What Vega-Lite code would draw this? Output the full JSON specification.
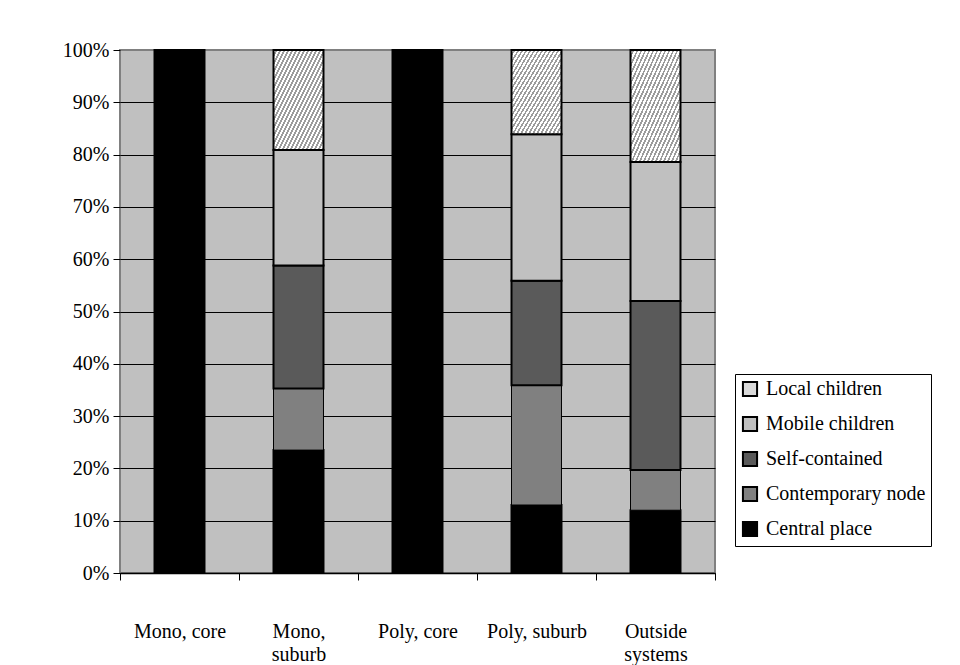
{
  "$schema": "https://vega.github.io/schema/vega-lite/v6.json",
  "autosize": "none",
  "padding": {"left": 120, "top": 50, "right": 245, "bottom": 92},
  "width": 595,
  "height": 523,
  "background": "white",
  "config": {
    "view": {"fill": "#c0c0c0", "stroke": "#808080", "strokeWidth": 2},
    "font": "Liberation Serif, Times New Roman, serif"
  },
  "data": {
    "values": [
      {"g": "Mono, core", "cat": "Central place", "v": 100},
      {"g": "Mono, suburb", "cat": "Central place", "v": 23.5},
      {"g": "Mono, suburb", "cat": "Contemporary node", "v": 11.8},
      {"g": "Mono, suburb", "cat": "Self-contained", "v": 23.5},
      {"g": "Mono, suburb", "cat": "Mobile children", "v": 22.1},
      {"g": "Mono, suburb", "cat": "Local children", "v": 19.1},
      {"g": "Poly, core", "cat": "Central place", "v": 100},
      {"g": "Poly, suburb", "cat": "Central place", "v": 13.0},
      {"g": "Poly, suburb", "cat": "Contemporary node", "v": 22.9},
      {"g": "Poly, suburb", "cat": "Self-contained", "v": 20.0},
      {"g": "Poly, suburb", "cat": "Mobile children", "v": 28.0},
      {"g": "Poly, suburb", "cat": "Local children", "v": 16.1},
      {"g": "Outside systems", "cat": "Central place", "v": 12.0},
      {"g": "Outside systems", "cat": "Contemporary node", "v": 7.7},
      {"g": "Outside systems", "cat": "Self-contained", "v": 32.3},
      {"g": "Outside systems", "cat": "Mobile children", "v": 26.6},
      {"g": "Outside systems", "cat": "Local children", "v": 21.4}
    ]
  },
  "transform": [
    {"calculate": "indexof(['Central place','Contemporary node','Self-contained','Mobile children','Local children'], datum.cat)", "as": "o"}
  ],
  "mark": {"type": "bar", "width": {"band": 0.42}, "stroke": "black", "opacity": 1},
  "encoding": {
    "x": {
      "field": "g",
      "type": "nominal",
      "sort": ["Mono, core", "Mono, suburb", "Poly, core", "Poly, suburb", "Outside systems"],
      "scale": {"paddingInner": 0, "paddingOuter": 0},
      "axis": {
        "title": null,
        "labelAngle": 0,
        "tickBand": "extent",
        "domainColor": "black",
        "domainWidth": 1.5,
        "tickColor": "black",
        "tickSize": 7,
        "grid": false,
        "labelFont": "Liberation Serif, Times New Roman, serif",
        "labelFontSize": 20,
        "labelColor": "black",
        "labelPadding": 41,
        "labelBaseline": "top",
        "labelLineHeight": 23,
        "labelLimit": 200,
        "labelExpr": "datum.value == 'Mono, suburb' ? ['Mono,', 'suburb'] : datum.value == 'Outside systems' ? ['Outside', 'systems'] : datum.value"
      }
    },
    "y": {
      "field": "v",
      "type": "quantitative",
      "stack": "normalize",
      "scale": {"domain": [0, 1], "nice": false},
      "axis": {
        "title": null,
        "values": [0, 0.1, 0.2, 0.3, 0.4, 0.5, 0.6, 0.7, 0.8, 0.9, 1],
        "format": ".0%",
        "domain": false,
        "tickColor": "black",
        "tickSize": 7,
        "grid": true,
        "gridColor": {"condition": {"test": "datum.value == 1", "value": "#808080"}, "value": "black"},
        "gridWidth": 1,
        "gridOpacity": 1,
        "labelFont": "Liberation Serif, Times New Roman, serif",
        "labelFontSize": 20,
        "labelColor": "black",
        "labelPadding": 4
      }
    },
    "fill": {
      "condition": {
        "test": "datum.cat == 'Local children'",
        "value": {"gradient": "linear", "x1": 0, "y1": 0, "x2": 1, "y2": 1, "stops": [
            {"offset": 0.0, "color": "#ffffff"}, {"offset": 0.022, "color": "#ffffff"}, {"offset": 0.022, "color": "#9c9c9c"}, {"offset": 0.04, "color": "#9c9c9c"},
            {"offset": 0.04, "color": "#ffffff"}, {"offset": 0.062, "color": "#ffffff"}, {"offset": 0.062, "color": "#9c9c9c"}, {"offset": 0.08, "color": "#9c9c9c"},
            {"offset": 0.08, "color": "#ffffff"}, {"offset": 0.102, "color": "#ffffff"}, {"offset": 0.102, "color": "#9c9c9c"}, {"offset": 0.12, "color": "#9c9c9c"},
            {"offset": 0.12, "color": "#ffffff"}, {"offset": 0.142, "color": "#ffffff"}, {"offset": 0.142, "color": "#9c9c9c"}, {"offset": 0.16, "color": "#9c9c9c"},
            {"offset": 0.16, "color": "#ffffff"}, {"offset": 0.182, "color": "#ffffff"}, {"offset": 0.182, "color": "#9c9c9c"}, {"offset": 0.20, "color": "#9c9c9c"},
            {"offset": 0.20, "color": "#ffffff"}, {"offset": 0.222, "color": "#ffffff"}, {"offset": 0.222, "color": "#9c9c9c"}, {"offset": 0.24, "color": "#9c9c9c"},
            {"offset": 0.24, "color": "#ffffff"}, {"offset": 0.262, "color": "#ffffff"}, {"offset": 0.262, "color": "#9c9c9c"}, {"offset": 0.28, "color": "#9c9c9c"},
            {"offset": 0.28, "color": "#ffffff"}, {"offset": 0.302, "color": "#ffffff"}, {"offset": 0.302, "color": "#9c9c9c"}, {"offset": 0.32, "color": "#9c9c9c"},
            {"offset": 0.32, "color": "#ffffff"}, {"offset": 0.342, "color": "#ffffff"}, {"offset": 0.342, "color": "#9c9c9c"}, {"offset": 0.36, "color": "#9c9c9c"},
            {"offset": 0.36, "color": "#ffffff"}, {"offset": 0.382, "color": "#ffffff"}, {"offset": 0.382, "color": "#9c9c9c"}, {"offset": 0.40, "color": "#9c9c9c"},
            {"offset": 0.40, "color": "#ffffff"}, {"offset": 0.422, "color": "#ffffff"}, {"offset": 0.422, "color": "#9c9c9c"}, {"offset": 0.44, "color": "#9c9c9c"},
            {"offset": 0.44, "color": "#ffffff"}, {"offset": 0.462, "color": "#ffffff"}, {"offset": 0.462, "color": "#9c9c9c"}, {"offset": 0.48, "color": "#9c9c9c"},
            {"offset": 0.48, "color": "#ffffff"}, {"offset": 0.502, "color": "#ffffff"}, {"offset": 0.502, "color": "#9c9c9c"}, {"offset": 0.52, "color": "#9c9c9c"},
            {"offset": 0.52, "color": "#ffffff"}, {"offset": 0.542, "color": "#ffffff"}, {"offset": 0.542, "color": "#9c9c9c"}, {"offset": 0.56, "color": "#9c9c9c"},
            {"offset": 0.56, "color": "#ffffff"}, {"offset": 0.582, "color": "#ffffff"}, {"offset": 0.582, "color": "#9c9c9c"}, {"offset": 0.60, "color": "#9c9c9c"},
            {"offset": 0.60, "color": "#ffffff"}, {"offset": 0.622, "color": "#ffffff"}, {"offset": 0.622, "color": "#9c9c9c"}, {"offset": 0.64, "color": "#9c9c9c"},
            {"offset": 0.64, "color": "#ffffff"}, {"offset": 0.662, "color": "#ffffff"}, {"offset": 0.662, "color": "#9c9c9c"}, {"offset": 0.68, "color": "#9c9c9c"},
            {"offset": 0.68, "color": "#ffffff"}, {"offset": 0.702, "color": "#ffffff"}, {"offset": 0.702, "color": "#9c9c9c"}, {"offset": 0.72, "color": "#9c9c9c"},
            {"offset": 0.72, "color": "#ffffff"}, {"offset": 0.742, "color": "#ffffff"}, {"offset": 0.742, "color": "#9c9c9c"}, {"offset": 0.76, "color": "#9c9c9c"},
            {"offset": 0.76, "color": "#ffffff"}, {"offset": 0.782, "color": "#ffffff"}, {"offset": 0.782, "color": "#9c9c9c"}, {"offset": 0.80, "color": "#9c9c9c"},
            {"offset": 0.80, "color": "#ffffff"}, {"offset": 0.822, "color": "#ffffff"}, {"offset": 0.822, "color": "#9c9c9c"}, {"offset": 0.84, "color": "#9c9c9c"},
            {"offset": 0.84, "color": "#ffffff"}, {"offset": 0.862, "color": "#ffffff"}, {"offset": 0.862, "color": "#9c9c9c"}, {"offset": 0.88, "color": "#9c9c9c"},
            {"offset": 0.88, "color": "#ffffff"}, {"offset": 0.902, "color": "#ffffff"}, {"offset": 0.902, "color": "#9c9c9c"}, {"offset": 0.92, "color": "#9c9c9c"},
            {"offset": 0.92, "color": "#ffffff"}, {"offset": 0.942, "color": "#ffffff"}, {"offset": 0.942, "color": "#9c9c9c"}, {"offset": 0.96, "color": "#9c9c9c"},
            {"offset": 0.96, "color": "#ffffff"}, {"offset": 0.982, "color": "#ffffff"}, {"offset": 0.982, "color": "#9c9c9c"}, {"offset": 1.0, "color": "#9c9c9c"}
          ]}
      },
      "field": "cat",
      "type": "nominal",
      "scale": {
        "domain": ["Local children", "Mobile children", "Self-contained", "Contemporary node", "Central place"],
        "range": ["#d9d9d9", "#c0c0c0", "#5a5a5a", "#808080", "#000000"]
      },
      "legend": {
        "title": null,
        "orient": "none",
        "legendX": 615,
        "legendY": 324,
        "fillColor": "white",
        "strokeColor": "black",
        "padding": 5,
        "symbolType": "square",
        "symbolSize": 200,
        "symbolStrokeColor": "black",
        "symbolStrokeWidth": 2,
        "symbolOpacity": 1,
        "labelFont": "Liberation Serif, Times New Roman, serif",
        "labelFontSize": 20,
        "labelColor": "black",
        "labelLimit": 300,
        "labelOffset": 6,
        "rowPadding": 11
      }
    },
    "strokeWidth": {"condition": {"test": "datum.cat == 'Contemporary node'", "value": 1}, "value": 2},
    "order": {"field": "o", "type": "quantitative"}
  }
}
